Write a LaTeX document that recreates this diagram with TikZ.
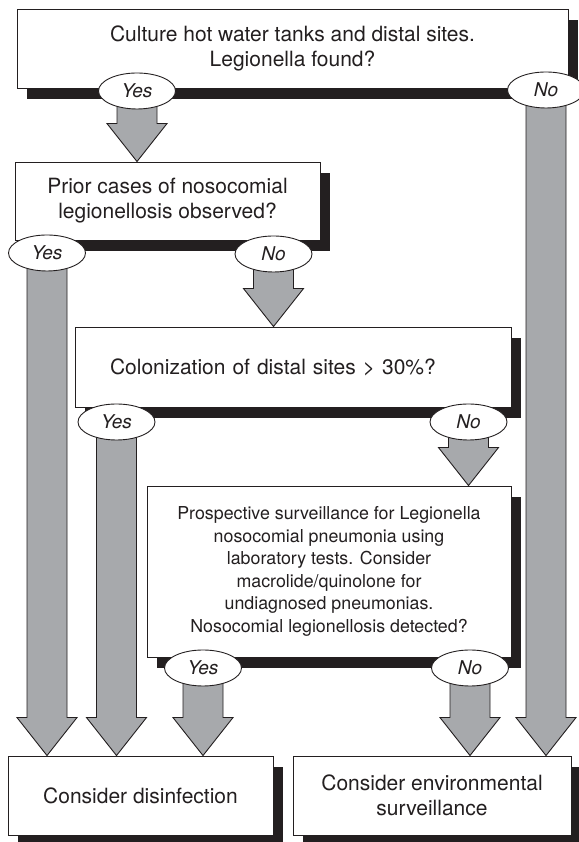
\documentclass[tikz,border=0pt]{standalone}
\usepackage{fontspec}
\setmainfont{TeX Gyre Heros}
\usepackage{tikz}
\usetikzlibrary{shapes.geometric, shadows, calc, backgrounds}
\definecolor{colorArrow}{HTML}{A7A9AC}
\definecolor{colorInk}{HTML}{231F20}

\tikzset{
  box/.style={draw=colorInk, line width=0.9pt, fill=white, text=colorInk,
    align=center, inner sep=0pt,
    drop shadow={shadow xshift=10pt, shadow yshift=-11pt, fill=colorInk, opacity=1},
    font=\fontsize{21}{25}\selectfont},
  ring/.style={draw=colorInk, line width=0.9pt, fill=white},
  answer/.style={text=colorInk, inner sep=0pt, font=\fontsize{19}{20}\selectfont\itshape},
  fatarrow/.style={fill=colorArrow, draw=colorInk, line width=0.9pt, line join=miter}
}
% broad grey arrow: shaft from #1, tip on #2
\newcommand{\fatarrow}[2]{%
  \filldraw[fatarrow] let \p1=(#1), \p2=(#2) in
    (\x1-20pt,\y1) -- (\x1+20pt,\y1) -- (\x1+20pt,\y2+38pt) -- (\x1+30pt,\y2+38pt)
    -- (\x1,\y2) -- (\x1-30pt,\y2+38pt) -- (\x1-20pt,\y2+38pt) -- cycle;}

\begin{document}
\begin{tikzpicture}[x=1pt, y=1pt]
    \useasboundingbox (0,0) rectangle (578,842);

    % questions
    \node[box, minimum width=551pt, minimum height=79pt] (culture) at (292.5,793.5)
        {Culture hot water tanks and distal sites.\\Legionella found?};
    \node[box, minimum width=305pt, minimum height=78pt] (prior) at (167.5,641)
        {Prior cases of nosocomial\\legionellosis observed?};
    \node[box, text width=366pt, inner xsep=35pt, minimum height=80pt, align=left] (colon) at (293,475)
        {Colonization of distal sites > 30\%?};
    \node[box, minimum width=364pt, minimum height=171pt, font=\fontsize{17.8}{22.5}\selectfont] (survey) at (329,270.5)
        {Prospective surveillance for Legionella\\nosocomial pneumonia using\\laboratory tests. Consider\\macrolide/quinolone for\\undiagnosed pneumonias.\\Nosocomial legionellosis detected?};

    % outcomes
    \node[box, minimum width=265pt, minimum height=79pt] (disinfect) at (140.5,46.5)
        {Consider disinfection};
    \node[box, minimum width=278pt, minimum height=79pt] (environ) at (432,46.5)
        {Consider environmental\\surveillance};

    % answers
    \foreach \name/\x/\y/\ans in {yesA/137/751/Yes, noA/546/752/No,
                                  yesB/47/589/Yes, noB/273.5/588/No,
                                  yesC/116.5/420/Yes, noC/468.5/420/No,
                                  yesD/203/174/Yes, noD/470/174/No} {
        \filldraw[ring] (\x,\y) ellipse [x radius=38.5, y radius=18];
        \node[answer] (\name) at (\x,\y) {\ans};
    }

    \begin{scope}[on background layer]
        \fill[white] (0,0) rectangle (578,842);
        \fatarrow{yesA}{yesA |- prior.north}
        \fatarrow{noA}{noA |- environ.north}
        \fatarrow{yesB}{yesB |- disinfect.north}
        \fatarrow{noB}{noB |- colon.north}
        \fatarrow{yesC}{yesC |- disinfect.north}
        \fatarrow{noC}{noC |- survey.north}
        \fatarrow{yesD}{yesD |- disinfect.north}
        \fatarrow{noD}{noD |- environ.north}
    \end{scope}
\end{tikzpicture}
\end{document}
